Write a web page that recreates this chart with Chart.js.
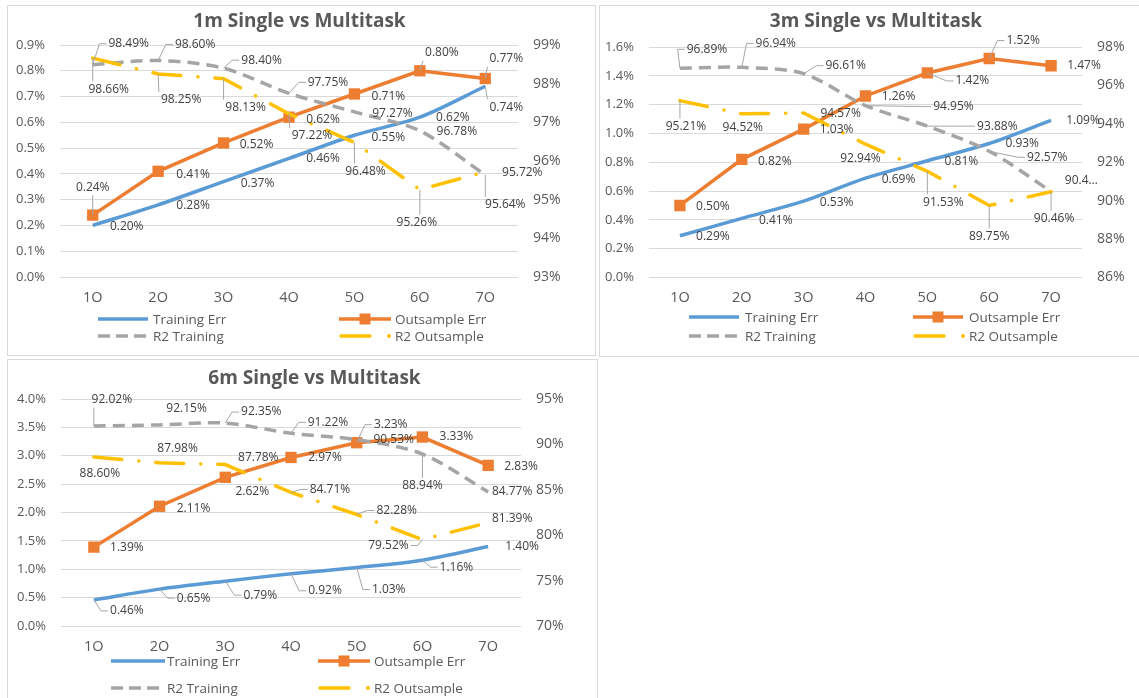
<!DOCTYPE html>
<html><head><meta charset="utf-8">
<script src="https://cdn.jsdelivr.net/npm/chart.js@4.4.1/dist/chart.umd.min.js"></script>
<style>
html,body{margin:0;padding:0;background:#fff;width:1139px;height:698px;overflow:hidden;position:relative}
canvas{position:absolute;}
</style></head><body>
<canvas id="c1" width="589" height="351" style="left:7px;top:5px"></canvas>
<canvas id="c2" width="542" height="352" style="left:599px;top:5px"></canvas>
<canvas id="c3" width="591" height="345" style="left:7px;top:359px"></canvas>
<script>
// ---------- data ----------
const categories = ['1O','2O','3O','4O','5O','6O','7O'];
const seriesNames = ['Training Err','Outsample Err','R2 Training','R2 Outsample'];

const train1m   = [0.20,0.28,0.37,0.46,0.55,0.62,0.74];
const out1m     = [0.24,0.41,0.52,0.62,0.71,0.80,0.77];
const r2Train1m = [98.49,98.60,98.40,97.75,97.27,96.78,95.64];
const r2Out1m   = [98.66,98.25,98.13,97.22,96.48,95.26,95.72];
const leftTicks1m  = [0, 0.9, 0.1];
const rightTicks1m = [93, 99, 1];

const train3m   = [0.29,0.41,0.53,0.69,0.81,0.93,1.09];
const out3m     = [0.50,0.82,1.03,1.26,1.42,1.52,1.47];
const r2Train3m = [96.89,96.94,96.61,94.95,93.88,92.57,90.48];
const r2Out3m   = [95.21,94.52,94.57,92.94,91.53,89.75,90.46];
const leftTicks3m  = [0, 1.6, 0.2];
const rightTicks3m = [86, 98, 2];

const train6m   = [0.46,0.65,0.79,0.92,1.03,1.16,1.40];
const out6m     = [1.39,2.11,2.62,2.97,3.23,3.33,2.83];
const r2Train6m = [92.02,92.15,92.35,91.22,90.53,88.94,84.77];
const r2Out6m   = [88.60,87.98,87.78,84.71,82.28,79.52,81.39];
const leftTicks6m  = [0, 4.0, 0.5];
const rightTicks6m = [70, 95, 5];

// ---------- label placement (dx, dy from point, leader flag) ----------
const lab1m = [
  [[34,1],[35,1],[34,2],[34,0],[34,2],[33,0],[21,21,1]],
  [[0,-28,1],[35,3],[33,2],[34,2],[34,3],[22,-18,1],[21,-20,1]],
  [[36,-21,1],[37,-16,1],[38,-8,1],[39,-11,1],[38,2],[37,1],[20,30,1]],
  [[16,31,1],[23,26,1],[22,29,1],[23,22,1],[11,29,1],[-3,33,1],[37,1]]
];
const lab3m = [
  [[33,1],[34,2],[33,1],[33,1],[34,1],[33,0],[32,0]],
  [[33,1],[33,2],[33,0],[33,1],[45,8,1],[34,-18,1],[33,0]],
  [[27,-19,1],[34,-24,1],[42,-8,1],[88,1,1],[70,0,1],[58,6,1],[34,-11]],
  [[6,26,1],[1,14],[37,1],[-5,14],[16,31,1],[0,31,1],[3,27,1]]
];
const lab6m = [
  [[33,11,1],[34,9,1],[35,14,1],[34,17,1],[32,22,1],[34,7,1],[34,0]],
  [[33,0],[34,2],[27,14],[34,0],[34,-18,1],[34,0],[33,1]],
  [[18,-26,1],[27,-16],[36,-11,1],[37,-11,1],[37,0],[0,32,1],[24,0]],
  [[6,16],[18,-14],[33,-7],[39,-3,1],[40,-4,1],[-34,6,1],[24,-4]]
];

// ---------- styling ----------
const COLORS = ['#5B9BD5','#ED7D31','#A5A5A5','#FFC000'];
const TEXT = '#595959';
const LABEL = '#404040';
const FONT = '"Open Sans", "Liberation Sans", sans-serif';

function drawSample(ctx, k, x1, x2, y) {
  ctx.save();
  ctx.lineWidth = 3.5;
  ctx.strokeStyle = COLORS[k];
  ctx.fillStyle = COLORS[k];
  ctx.beginPath();
  if (k === 0 || k === 1) {
    ctx.moveTo(x1, y); ctx.lineTo(x2, y); ctx.stroke();
    if (k === 1) { const m = (x1 + x2) / 2; ctx.fillRect(m - 5.5, y - 5.5, 11, 11); }
  } else if (k === 2) {
    ctx.setLineDash([12, 6]);
    ctx.moveTo(x1, y); ctx.lineTo(x2 - 2, y); ctx.stroke();
  } else {
    ctx.lineCap = 'round';
    ctx.moveTo(x1 + 2, y); ctx.lineTo(x1 + 31, y); ctx.stroke();
    ctx.beginPath(); ctx.arc(x1 + 50, y, 2, 0, Math.PI * 2); ctx.fill();
  }
  ctx.restore();
}

function makeChart(id, spec) {
  const canvas = document.getElementById(id);
  const W = canvas.width, H = canvas.height;
  const p = spec.plot;
  const datasets = [
    {label: seriesNames[0], data: spec.series[0], yAxisID: 'y', borderColor: COLORS[0], backgroundColor: COLORS[0],
     borderWidth: 3.5, pointRadius: 0, tension: 0.3, order: 4},
    {label: seriesNames[1], data: spec.series[1], yAxisID: 'y', borderColor: COLORS[1], backgroundColor: COLORS[1],
     pointBackgroundColor: COLORS[1], pointBorderColor: COLORS[1], pointBorderWidth: 0,
     borderWidth: 3.5, pointStyle: 'rect', pointRadius: 8, tension: 0, order: 3},
    {label: seriesNames[2], data: spec.series[2], yAxisID: 'y1', borderColor: COLORS[2], backgroundColor: COLORS[2],
     borderWidth: 3.5, borderDash: [12, 7], pointRadius: 0, tension: 0.3, order: 2},
    {label: seriesNames[3], data: spec.series[3], yAxisID: 'y1', borderColor: COLORS[3], backgroundColor: COLORS[3],
     borderWidth: 3.5, borderDash: [28, 17, 0.1, 17], borderCapStyle: 'round', pointRadius: 0, tension: 0, order: 1}
  ];
  const plugin = {
    id: 'panel_' + id,
    beforeDraw(chart) {
      const ctx = chart.ctx;
      ctx.save();
      ctx.fillStyle = '#fff';
      ctx.fillRect(0, 0, W, H);
      ctx.strokeStyle = '#d9d9d9';
      ctx.lineWidth = 1;
      ctx.strokeRect(0.5, 0.5, W - 1, H - 1);
      ctx.restore();
    },
    afterDatasetsDraw(chart) {
      const ctx = chart.ctx;
      ctx.save();
      ctx.font = '12px ' + FONT;
      ctx.textBaseline = 'middle';
      ctx.textAlign = 'left';
      spec.labels.forEach((arr, di) => {
        const meta = chart.getDatasetMeta(di);
        const vals = chart.data.datasets[di].data;
        arr.forEach((pl, i) => {
          const pt = meta.data[i];
          const px = pt.x, py = pt.y;
          let text = vals[i].toFixed(2) + '%';
          const fullW = ctx.measureText(text).width;
          const cx = px + pl[0], cy = py + pl[1];
          const left = cx - fullW / 2;
          if (left + fullW > spec.maxRight) {
            let t = text;
            while (t.length > 1 && left + ctx.measureText(t + '…').width > spec.maxRight) t = t.slice(0, -1);
            text = t + '…';
          }
          const w = ctx.measureText(text).width;
          const L = left - 2, R = left + w + 2, T = cy - 8, B = cy + 8;
          if (pl[2]) {
            ctx.strokeStyle = '#a6a6a6';
            ctx.lineWidth = 1;
            ctx.beginPath();
            if (px < L - 4) {
              ctx.moveTo(px, py); ctx.lineTo(L - 7, cy); ctx.lineTo(L, cy);
            } else if (px > R + 4) {
              ctx.moveTo(px, py); ctx.lineTo(R + 7, cy); ctx.lineTo(R, cy);
            } else {
              const ty = py < T ? T : B;
              ctx.moveTo(px, py); ctx.lineTo(Math.min(Math.max(px, L), R), ty);
            }
            ctx.stroke();
          }
          ctx.fillStyle = LABEL;
          ctx.fillText(text, left, cy);
        });
      });
      ctx.restore();
    },
    afterDraw(chart) {
      const ctx = chart.ctx;
      ctx.save();
      ctx.fillStyle = TEXT;
      ctx.font = 'bold 19px ' + FONT;
      ctx.textAlign = 'center';
      ctx.textBaseline = 'middle';
      ctx.fillText(spec.title, spec.titlePos[0], spec.titlePos[1]);
      ctx.font = '13.5px ' + FONT;
      ctx.textAlign = 'left';
      const lg = spec.legend;
      for (let k = 0; k < 4; k++) {
        const col = lg.cols[k % 2], y = lg.rows[Math.floor(k / 2)];
        drawSample(ctx, k, col[0], col[1], y);
        ctx.fillStyle = TEXT;
        ctx.fillText(seriesNames[k], col[2], y + 1);
      }
      ctx.restore();
    }
  };
  return new Chart(canvas, {
    type: 'line',
    data: {labels: categories, datasets},
    options: {
      responsive: false, animation: false, devicePixelRatio: 1,
      layout: {padding: {top: p.top, left: 0, right: 0, bottom: 0}},
      plugins: {legend: {display: false}, title: {display: false}, tooltip: {enabled: false}},
      scales: {
        x: {
          offset: true,
          grid: {display: false, drawTicks: false},
          border: {display: false},
          ticks: {color: TEXT, font: {family: FONT, size: 14.5}, padding: spec.xPad, autoSkip: false, maxRotation: 0},
          afterFit: s => { s.height = H - p.bottom; }
        },
        y: {
          position: 'left', min: spec.left[0], max: spec.left[1],
          grid: {color: '#d9d9d9', lineWidth: 1, drawTicks: false},
          border: {display: false},
          ticks: {stepSize: spec.left[2], color: TEXT, font: {family: FONT, size: 13}, padding: 15, autoSkip: false,
                  callback: v => Number(v).toFixed(1) + '%'},
          afterFit: s => { s.width = p.left; }
        },
        y1: {
          position: 'right', min: spec.right[0], max: spec.right[1],
          grid: {display: false, drawTicks: false},
          border: {display: false},
          ticks: {stepSize: spec.right[2], color: TEXT, font: {family: FONT, size: 14}, padding: 15, autoSkip: false,
                  callback: v => Number(v).toFixed(0) + '%'},
          afterFit: s => { s.width = W - p.right; }
        }
      }
    },
    plugins: [plugin]
  });
}

makeChart('c1', {
  title: '1m Single vs Multitask', titlePos: [292.5, 17],
  series: [train1m, out1m, r2Train1m, r2Out1m], labels: lab1m,
  left: leftTicks1m, right: rightTicks1m,
  plot: {left: 53, right: 511, top: 40, bottom: 272}, xPad: 12, maxRight: 549,
  legend: {rows: [314, 331], cols: [[91, 141, 146], [332, 384, 388]]}
});
makeChart('c2', {
  title: '3m Single vs Multitask', titlePos: [277, 17],
  series: [train3m, out3m, r2Train3m, r2Out3m], labels: lab3m,
  left: leftTicks3m, right: rightTicks3m,
  plot: {left: 50, right: 483, top: 42, bottom: 272.5}, xPad: 12, maxRight: 504,
  legend: {rows: [312, 331], cols: [[90, 140, 146], [314, 364, 370]]}
});
makeChart('c3', {
  title: '6m Single vs Multitask', titlePos: [307.5, 20],
  series: [train6m, out6m, r2Train6m, r2Out6m], labels: lab6m,
  left: leftTicks6m, right: rightTicks6m,
  plot: {left: 54, right: 514, top: 40, bottom: 267}, xPad: 12, maxRight: 551,
  legend: {rows: [302, 329], cols: [[104, 158, 160], [311, 363, 367]]}
});
</script>
</body></html>
